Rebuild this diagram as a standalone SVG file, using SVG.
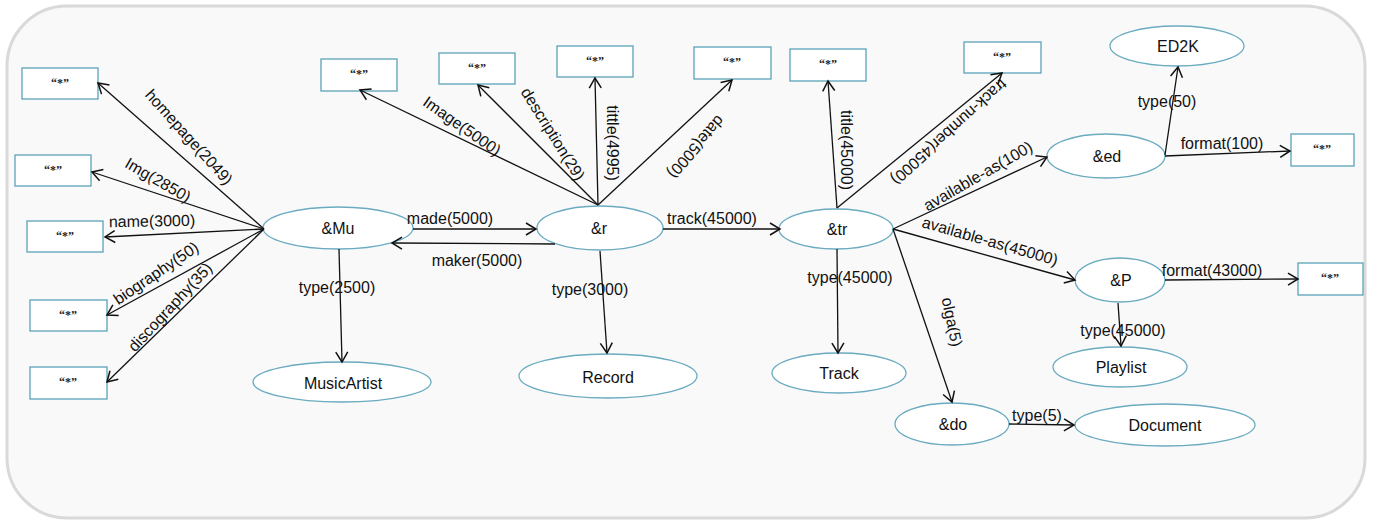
<svg xmlns="http://www.w3.org/2000/svg" width="1374" height="522" viewBox="0 0 1374 522">
<defs>
<marker id="arr" viewBox="0 0 10 12" refX="10" refY="6" markerWidth="10" markerHeight="12" markerUnits="userSpaceOnUse" orient="auto" overflow="visible">
<path d="M0,0 L10,6 L0,12" fill="none" stroke="#111" stroke-width="1.5"/>
</marker>
<style>
.bg{fill:#f9f9f9;stroke:#d9d9d9;stroke-width:3}
.lit rect{fill:#fff;stroke:#5aa3b8;stroke-width:1.3}
.lit text{font-family:"Liberation Serif",serif;font-weight:bold;font-size:12px;fill:#222;text-anchor:middle}
.nd ellipse{fill:#fff;stroke:#6aabc0;stroke-width:1.3}
.nd text{font-family:"Liberation Sans",Arial,sans-serif;font-size:16px;fill:#111;text-anchor:middle;dominant-baseline:central}
.edges line{stroke:#111;stroke-width:1.3;marker-end:url(#arr)}
.lbl text{font-family:"Liberation Sans",Arial,sans-serif;font-size:16px;fill:#111;text-anchor:middle;dominant-baseline:central}
</style>
</defs>
<rect class="bg" x="7" y="6" width="1358" height="512" rx="60" ry="60"/>

<g id="lit-homepage" class="lit"><rect x="22" y="68" width="76" height="31"/><text x="60" y="87">“*”</text></g>
<g id="lit-img" class="lit"><rect x="15" y="155" width="76" height="31"/><text x="53" y="174">“*”</text></g>
<g id="lit-name" class="lit"><rect x="27" y="221" width="76" height="31"/><text x="65" y="240">“*”</text></g>
<g id="lit-biography" class="lit"><rect x="30" y="300" width="77" height="31"/><text x="68" y="319">“*”</text></g>
<g id="lit-discography" class="lit"><rect x="30" y="367" width="77" height="32"/><text x="68" y="386">“*”</text></g>
<g id="lit-image" class="lit"><rect x="321" y="59" width="76" height="32"/><text x="359" y="78">“*”</text></g>
<g id="lit-description" class="lit"><rect x="439" y="53" width="76" height="31"/><text x="477" y="72">“*”</text></g>
<g id="lit-tittle" class="lit"><rect x="557" y="46" width="76" height="31"/><text x="595" y="65">“*”</text></g>
<g id="lit-date" class="lit"><rect x="694" y="47" width="77" height="32"/><text x="732" y="66">“*”</text></g>
<g id="lit-title" class="lit"><rect x="790" y="49" width="76" height="32"/><text x="828" y="68">“*”</text></g>
<g id="lit-tracknumber" class="lit"><rect x="964" y="42" width="77" height="31"/><text x="1002" y="61">“*”</text></g>
<g id="lit-format100" class="lit"><rect x="1291" y="134" width="63" height="32"/><text x="1322" y="153">“*”</text></g>
<g id="lit-format43000" class="lit"><rect x="1298" y="263" width="65" height="32"/><text x="1330" y="282">“*”</text></g>

<g id="n-mu" class="nd"><ellipse cx="338" cy="228" rx="75" ry="21"/><text x="338" y="228">&amp;Mu</text></g>
<g id="n-r" class="nd"><ellipse cx="600" cy="228" rx="63" ry="22"/><text x="599" y="228">&amp;r</text></g>
<g id="n-musicartist" class="nd"><ellipse cx="342" cy="382" rx="89" ry="20"/><text x="343" y="383">MusicArtist</text></g>
<g id="n-record" class="nd"><ellipse cx="608" cy="376" rx="89" ry="22"/><text x="608" y="377">Record</text></g>
<g id="n-tr" class="nd"><ellipse cx="836" cy="229" rx="57" ry="20"/><text x="837" y="229">&amp;tr</text></g>
<g id="n-track" class="nd"><ellipse cx="839" cy="373" rx="67" ry="20"/><text x="839" y="373">Track</text></g>
<g id="n-ed2k" class="nd"><ellipse cx="1177" cy="46" rx="67" ry="20"/><text x="1178" y="46">ED2K</text></g>
<g id="n-ed" class="nd"><ellipse cx="1106" cy="156" rx="59" ry="22"/><text x="1107" y="156">&amp;ed</text></g>
<g id="n-p" class="nd"><ellipse cx="1120" cy="280" rx="45" ry="22"/><text x="1121" y="280">&amp;P</text></g>
<g id="n-playlist" class="nd"><ellipse cx="1120" cy="367" rx="67" ry="20"/><text x="1121" y="367">Playlist</text></g>
<g id="n-do" class="nd"><ellipse cx="952" cy="424" rx="57" ry="21"/><text x="953" y="424">&amp;do</text></g>
<g id="n-document" class="nd"><ellipse cx="1165" cy="425" rx="90" ry="21"/><text x="1165" y="425">Document</text></g>

<g id="connectors">
<g class="edges">
<line x1="264" y1="229" x2="98" y2="83"/>
<line x1="264" y1="229" x2="92" y2="172"/>
<line x1="264" y1="229" x2="105" y2="237"/>
<line x1="264" y1="229" x2="107" y2="315"/>
<line x1="264" y1="229" x2="107" y2="382"/>
<line x1="413" y1="229" x2="536" y2="229"/>
<line x1="555" y1="244" x2="392" y2="243"/>
<line x1="339" y1="249" x2="342" y2="362"/>
<line x1="598" y1="205" x2="360" y2="90"/>
<line x1="598" y1="205" x2="478" y2="85"/>
<line x1="598" y1="205" x2="595" y2="78"/>
<line x1="598" y1="205" x2="732" y2="80"/>
<line x1="600" y1="251" x2="607" y2="353"/>
<line x1="663" y1="229" x2="780" y2="229"/>
<line x1="837" y1="208" x2="828" y2="81"/>
<line x1="837" y1="208" x2="1002" y2="73"/>
<line x1="837" y1="249" x2="838" y2="353"/>
<line x1="893" y1="229" x2="1047" y2="157"/>
<line x1="893" y1="229" x2="1075" y2="280"/>
<line x1="893" y1="229" x2="952" y2="402"/>
<line x1="1165" y1="155" x2="1178" y2="67"/>
<line x1="1165" y1="156" x2="1290" y2="151"/>
<line x1="1165" y1="280" x2="1298" y2="279"/>
<line x1="1118" y1="303" x2="1121" y2="346"/>
<line x1="1009" y1="424" x2="1074" y2="425"/>
</g>
<g class="lbl">
<text transform="translate(189,137) rotate(48)">homepage(2049)</text>
<text transform="translate(158,180) rotate(30)">Img(2850)</text>
<text transform="translate(152,221) rotate(-1)">name(3000)</text>
<text transform="translate(156,273) rotate(-34)">biography(50)</text>
<text transform="translate(170,307) rotate(-47)">discography(35)</text>
<text x="450" y="218">made(5000)</text>
<text x="477" y="260">maker(5000)</text>
<text x="337" y="287">type(2500)</text>
<text transform="translate(462,126) rotate(35)">Image(5000)</text>
<text transform="translate(553,134) rotate(58)">description(29)</text>
<text transform="translate(612,143) rotate(90)">tittle(4995)</text>
<text transform="translate(696,147) rotate(131)">date(5000)</text>
<text x="590" y="289">type(3000)</text>
<text x="712" y="218">track(45000)</text>
<text transform="translate(846,150) rotate(90)">title(45000)</text>
<text transform="translate(949,132) rotate(138)">track-number(45000)</text>
<text x="850" y="277">type(45000)</text>
<text transform="translate(978,176) rotate(-30)">available-as(100)</text>
<text transform="translate(990,241) rotate(16)">available-as(45000)</text>
<text transform="translate(952,322) rotate(78)">olga(5)</text>
<text x="1167" y="101">type(50)</text>
<text x="1222" y="143">format(100)</text>
<text x="1212" y="270">format(43000)</text>
<text x="1123" y="330">type(45000)</text>
<text x="1037" y="415">type(5)</text>
</g>
</g>
</svg>
